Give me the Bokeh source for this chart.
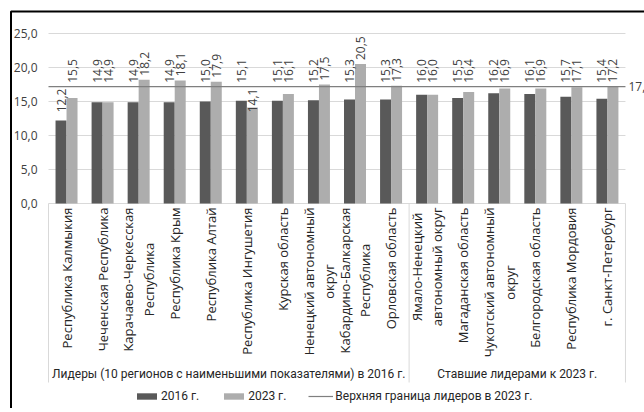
import numpy as np
from bokeh.plotting import figure
from bokeh.models import ColumnDataSource, Legend, LegendItem
from bokeh.core.properties import value
from bokeh.embed import file_html
from bokeh.resources import INLINE

# ---------------- data ----------------
regions = [
    "Республика Калмыкия",
    "Чеченская Республика",
    "Карачаево-Черкесская\nРеспублика",
    "Республика Крым",
    "Республика Алтай",
    "Республика Ингушетия",
    "Курская область",
    "Ненецкий автономный\nокруг",
    "Кабардино-Балкарская\nРеспублика",
    "Орловская область",
    "Ямало-Ненецкий\nавтономный округ",
    "Магаданская область",
    "Чукотский автономный\nокруг",
    "Белгородская область",
    "Республика Мордовия",
    "г. Санкт-Петербург",
]
groups = ["Лидеры (10 регионов с наименьшими показателями) в 2016 г.",
          "Ставшие лидерами к 2023 г."]
group_sizes = [10, 6]
v2016 = [12.2, 14.9, 14.9, 14.9, 15.0, 15.1, 15.1, 15.2, 15.3, 15.3,
         16.0, 15.5, 16.2, 16.1, 15.7, 15.4]
v2023 = [15.5, 14.9, 18.2, 18.1, 17.9, 14.1, 16.1, 17.5, 20.5, 17.3,
         16.0, 16.4, 16.9, 16.9, 17.1, 17.2]
leader_limit = 17.2
y_ticks = [0, 5, 10, 15, 20, 25]
series_names = ["2016 г.", "2023 г.", "Верхняя граница лидеров в 2023 г."]

# ---------------- styling / geometry ----------------
DARK = "#595959"
LIGHT = "#adadad"
GRID = "#d9d9d9"
TXT = "#404040"
F_MAIN = "Open Sans"
F_NARROW = "Roboto"
W, H = 644, 408              # canvas size (page origin)
PX_X = 36.06                 # px per category
PX_Y = 6.8                   # px per value unit
ZERO_Y = 203                 # canvas y of value 0
PLOT_L = 48                  # canvas x of the first category's left edge
BAR_W = 0.305

n = len(regions)
x_start = -0.5 - PLOT_L / PX_X
x_end = -0.5 + (W - PLOT_L) / PX_X
y_end = ZERO_Y / PX_Y
y_start = -(H - ZERO_Y) / PX_Y
cx = lambda px: -0.5 + (px - PLOT_L) / PX_X     # canvas px -> data x
cy = lambda py: (ZERO_Y - py) / PX_Y            # canvas px -> data y

idx = np.arange(n)
fmt = lambda v: f"{v:.1f}".replace(".", ",")

def label_pos(v):
    # labels avoid the reference line: small values sit just under it, others above
    if v <= leader_limit - 3.0:
        return leader_limit - 0.3, "right"
    return max(v + 0.6, leader_limit + 0.55), "left"

def make_src(vals, shift):
    pos = [label_pos(v) for v in vals]
    return ColumnDataSource(dict(
        x=idx + shift, top=vals, txt=[fmt(v) for v in vals],
        ly=[q[0] for q in pos], al=[q[1] for q in pos]))

src16 = make_src(v2016, -BAR_W / 2)
src23 = make_src(v2023, BAR_W / 2)

p = figure(width=W, height=H, x_range=(x_start, x_end), y_range=(y_start, y_end),
           output_backend="svg", toolbar_location=None,
           x_axis_location=None, y_axis_location=None,
           min_border=0)
p.outline_line_color = None
p.grid.visible = False

# value grid + value tick labels
p.segment(x0=[-0.5] * len(y_ticks), x1=[n - 0.5] * len(y_ticks), y0=y_ticks, y1=y_ticks,
          line_color=GRID, line_width=1)
p.text(x=[-0.5] * len(y_ticks), y=y_ticks, text=[fmt(t) for t in y_ticks], x_offset=-11,
       text_align="right", text_baseline="middle", text_font=value(F_MAIN),
       text_font_size="12px", text_color=TXT)

# black outer frame (cropped at right / bottom in the reference)
bx, by = cx(10.5), cy(11)
p.line(x=[bx, bx, x_end + 1], y=[y_start - 1, by, by], line_color="black", line_width=2)

r16 = p.vbar(x="x", top="top", width=BAR_W, source=src16, fill_color=DARK, line_color=None)
r23 = p.vbar(x="x", top="top", width=BAR_W, source=src23, fill_color=LIGHT, line_color=None)

rline = p.line(x=[-0.5, n - 0.5], y=[leader_limit, leader_limit], line_color="#7f7f7f",
               line_width=1.2)

for s in (src16, src23):
    p.text(x="x", y="ly", text="txt", source=s, angle=np.pi / 2, text_align="al",
           text_baseline="middle", text_font=value(F_MAIN), text_font_size="12px",
           text_color=TXT)

p.text(x=[n - 0.5], y=[leader_limit], text=[fmt(leader_limit)], x_offset=3,
       text_baseline="middle", text_font=value(F_MAIN), text_font_size="12px", text_color=TXT)

# category labels (rotated)
p.text(x=list(idx), y=[cy(207)] * n, text=regions, angle=np.pi / 2, anchor="center_right",
       text_align="center", text_font=value(F_MAIN), text_font_size="13px",
       text_color="#262626", text_line_height=1.15)

# group separators and group labels
bounds = np.concatenate([[0], np.cumsum(group_sizes)]) - 0.5
sep_bottom = cy(382)
p.segment(x0=list(bounds), y0=[0] * len(bounds), x1=list(bounds), y1=[sep_bottom] * len(bounds),
          line_color=GRID, line_width=1)
gcent = [(bounds[i] + bounds[i + 1]) / 2 for i in range(len(groups))]
p.text(x=gcent, y=[cy(373)] * len(groups), text=groups,
       text_align="center", text_baseline="middle", text_font=value(F_NARROW),
       text_font_size="12px", text_color="#262626")

legend = Legend(items=[LegendItem(label=series_names[0], renderers=[r16]),
                       LegendItem(label=series_names[1], renderers=[r23]),
                       LegendItem(label=series_names[2], renderers=[rline])],
                orientation="horizontal", location=(134, 5),
                glyph_width=25, glyph_height=8, label_standoff=2, spacing=22,
                padding=2, margin=0, border_line_color=None, background_fill_alpha=0,
                label_text_font=F_NARROW, label_text_font_size="12px",
                label_text_color="#262626")
p.add_layout(legend)

open("out.html", "w").write(file_html(p, INLINE))
